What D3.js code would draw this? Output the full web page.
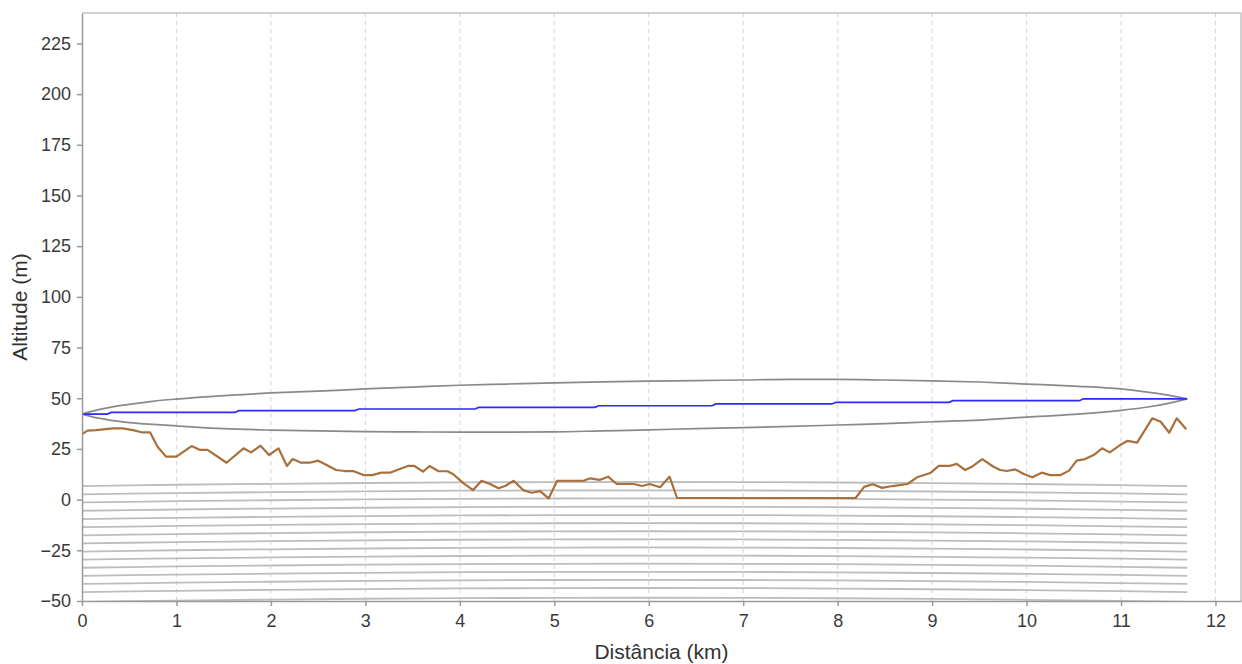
<!DOCTYPE html>
<html>
<head>
<meta charset="utf-8">
<script src="https://d3js.org/d3.v7.min.js"></script>
<style>
  body { margin: 0; background: #fff; }
  text { font-family: "Liberation Sans", Arial, sans-serif; }
</style>
</head>
<body>
<script>
// terrain profile (km, m)
var terrainDist = [0, 0.06, 0.15, 0.33, 0.43, 0.54, 0.63, 0.72, 0.80, 0.89, 1.0, 1.16, 1.25, 1.33, 1.53, 1.71, 1.79, 1.89, 1.98, 2.08,
  2.17, 2.23, 2.32, 2.41, 2.50, 2.59, 2.69, 2.78, 2.87, 2.98, 3.07, 3.17, 3.26, 3.35, 3.45, 3.52, 3.61, 3.68, 3.77, 3.87,
  3.93, 4.04, 4.14, 4.23, 4.32, 4.41, 4.48, 4.57, 4.67, 4.76, 4.85, 4.94, 5.03, 5.31, 5.38, 5.48, 5.57, 5.66, 5.84, 5.93,
  6.01, 6.12, 6.22, 6.30, 8.19, 8.28, 8.37, 8.47, 8.58, 8.74, 8.84, 8.98, 9.07, 9.18, 9.26, 9.35, 9.42, 9.53, 9.65, 9.72,
  9.79, 9.88, 9.97, 10.06, 10.16, 10.25, 10.36, 10.45, 10.53, 10.62, 10.71, 10.80, 10.88, 10.99, 11.07, 11.17, 11.33, 11.42,
  11.51, 11.59, 11.69];
var terrainAlt = [32.3, 34.0, 34.3, 35.1, 35.1, 34.3, 33.2, 33.2, 26.1, 21.2, 21.2, 26.4, 24.5, 24.5, 18.2, 25.3, 23.3, 26.6, 22.0, 25.3,
  16.6, 20.0, 18.2, 18.2, 19.2, 17.1, 14.6, 14.1, 14.1, 12.1, 12.1, 13.3, 13.3, 14.9, 16.6, 16.6, 13.8, 16.6, 14.1, 14.0,
  12.5, 8.0, 4.7, 9.3, 7.7, 5.6, 6.7, 9.3, 4.7, 3.4, 4.2, 0.6, 9.3, 9.3, 10.5, 9.7, 11.3, 7.7, 7.7, 6.7,
  7.7, 6.1, 11.3, 0.8, 0.8, 6.3, 7.6, 5.8, 6.7, 7.7, 11.0, 13.1, 16.6, 16.6, 17.6, 14.6, 16.2, 20.0, 16.2, 14.6,
  14.1, 14.9, 12.6, 11.0, 13.3, 12.1, 12.1, 14.3, 19.2, 20.0, 22.0, 25.3, 23.3, 26.9, 29.0, 28.1, 40.1, 38.4,
  33.0, 40.1, 34.7];

// line of sight (stepped as in the picture)
var losDist = [0, 0.27, 0.31, 1.62, 1.66, 2.89, 2.93, 4.16, 4.20, 5.43, 5.47, 6.67, 6.71, 7.94, 7.98, 9.18, 9.22, 10.56, 10.60, 11.7];
var losAlt = [42.2, 42.2, 43.0, 43.0, 43.9, 43.9, 44.7, 44.7, 45.5, 45.5, 46.3, 46.3, 47.2, 47.2, 48.0, 48.0, 48.8, 48.8, 49.7, 49.7];

// fresnel zone limits
var zoneDist = [0, 0.1, 0.2, 0.35, 0.5, 0.75, 1, 1.5, 2, 2.5, 3, 3.5, 4, 4.5, 5, 5.5, 6, 6.5, 7, 7.5, 8, 8.5, 9, 9.5, 10, 10.5, 11, 11.3, 11.5, 11.7];
var zoneUpper = [42.2, 43.5, 44.6, 46.0, 47.0, 48.5, 49.6, 51.3, 52.6, 53.5, 54.6, 55.5, 56.4, 57.0, 57.6, 58.1, 58.4, 58.7, 59.0, 59.3, 59.3, 59.0, 58.6, 58.0, 57.0, 56.0, 54.6, 52.9, 51.5, 49.7];
var zoneLower = [42.2, 40.9, 40.0, 38.8, 38.0, 37.1, 36.4, 35.0, 34.3, 33.9, 33.5, 33.4, 33.3, 33.3, 33.4, 33.9, 34.4, 35.0, 35.5, 36.1, 36.8, 37.5, 38.4, 39.2, 40.7, 42.0, 44.0, 45.8, 47.5, 49.7];

// curvature reference lines: base altitude + bulge along the path
var bulgeDist = [0, 0.5, 1, 2, 3, 4, 5, 5.85, 7, 8, 9, 10, 11, 11.7];
var bulgeAlt = [0, 0.33, 0.63, 1.1, 1.5, 1.8, 1.95, 2.0, 1.95, 1.75, 1.4, 1.0, 0.45, 0];
var curveBase = [6.7, 2.6, -1.4, -5.5, -9.6, -13.6, -17.6, -21.6, -25.6, -29.6, -33.6, -37.6, -41.6, -45.6, -50.4];

var xTicks = [0, 1, 2, 3, 4, 5, 6, 7, 8, 9, 10, 11, 12];
var yTicks = [-50, -25, 0, 25, 50, 75, 100, 125, 150, 175, 200, 225];

var width = 1242, height = 664;
var margin = {left: 82, right: 1, top: 13, bottom: 63};

var svg = d3.select("body").append("svg")
    .attr("width", width)
    .attr("height", height);

var x = d3.scaleLinear().domain([0, 12.27]).range([margin.left, width - margin.right]);
var y = d3.scaleLinear().domain([-50, 240]).range([height - margin.bottom, margin.top]);

svg.append("defs").append("clipPath").attr("id", "plot")
  .append("rect")
    .attr("x", x(0)).attr("y", y(240))
    .attr("width", x(12.27) - x(0)).attr("height", y(-50) - y(240));

// vertical dashed grid
svg.append("g")
  .selectAll("line")
  .data(xTicks.filter(d => d > 0))
  .join("line")
    .attr("x1", d => x(d)).attr("x2", d => x(d))
    .attr("y1", y(240)).attr("y2", y(-50))
    .attr("stroke", "#d4d4d4")
    .attr("stroke-width", 1)
    .attr("stroke-dasharray", "4,4");

// frame top/right
svg.append("path")
    .attr("d", "M" + x(0) + "," + y(240) + "H" + x(12.27) + "V" + y(-50))
    .attr("fill", "none")
    .attr("stroke", "#c4c4c4")
    .attr("stroke-width", 1.5);

var plot = svg.append("g").attr("clip-path", "url(#plot)");

var line = d3.line().x(d => x(d[0])).y(d => y(d[1]));

// curvature lines
plot.append("g")
  .selectAll("path")
  .data(curveBase)
  .join("path")
    .attr("d", b => line(bulgeDist.map((d, i) => [d, b + bulgeAlt[i]])))
    .attr("fill", "none")
    .attr("stroke", "#bdbdbd")
    .attr("stroke-width", 1.8);

// fresnel zone
[zoneUpper, zoneLower].forEach(function(vals) {
    plot.append("path")
        .attr("d", d3.line().curve(d3.curveMonotoneX).x(d => x(d[0])).y(d => y(d[1]))(zoneDist.map((d, i) => [d, vals[i]])))
        .attr("fill", "none")
        .attr("stroke", "#8a8a8a")
        .attr("stroke-width", 1.7);
});

// line of sight
plot.append("path")
    .attr("d", line(losDist.map((d, i) => [d, losAlt[i]])))
    .attr("fill", "none")
    .attr("stroke", "#2a2aff")
    .attr("stroke-width", 1.7);

// terrain
plot.append("path")
    .attr("d", line(terrainDist.map((d, i) => [d, terrainAlt[i]])))
    .attr("fill", "none")
    .attr("stroke", "#a8703c")
    .attr("stroke-width", 2.2)
    .attr("stroke-linejoin", "round");

// axes
var xAxis = svg.append("g")
    .attr("transform", "translate(0," + y(-50) + ")")
    .call(d3.axisBottom(x).tickValues(xTicks).tickSize(5).tickPadding(8).tickSizeOuter(0));
var yAxis = svg.append("g")
    .attr("transform", "translate(" + x(0) + ",0)")
    .call(d3.axisLeft(y).tickValues(yTicks).tickSize(5).tickPadding(6).tickSizeOuter(0));

[xAxis, yAxis].forEach(function(ax) {
    ax.select(".domain").attr("stroke", "#9a9a9a").attr("stroke-width", 1.5);
    ax.selectAll(".tick line").attr("stroke", "#9a9a9a").attr("stroke-width", 1.5);
    ax.selectAll(".tick text")
        .attr("fill", "#3a3a3a")
        .style("font-size", "18px")
        .style("font-family", "'Liberation Sans', Arial, sans-serif");
});

svg.append("text")
    .attr("x", (x(0) + x(12.27)) / 2)
    .attr("y", 659)
    .attr("text-anchor", "middle")
    .attr("fill", "#333")
    .style("font-size", "21px")
    .text("Distância (km)");

svg.append("text")
    .attr("transform", "translate(27," + (y(-50) + y(240)) / 2 + ") rotate(-90)")
    .attr("text-anchor", "middle")
    .attr("fill", "#333")
    .style("font-size", "21px")
    .text("Altitude (m)");
</script>
</body>
</html>
